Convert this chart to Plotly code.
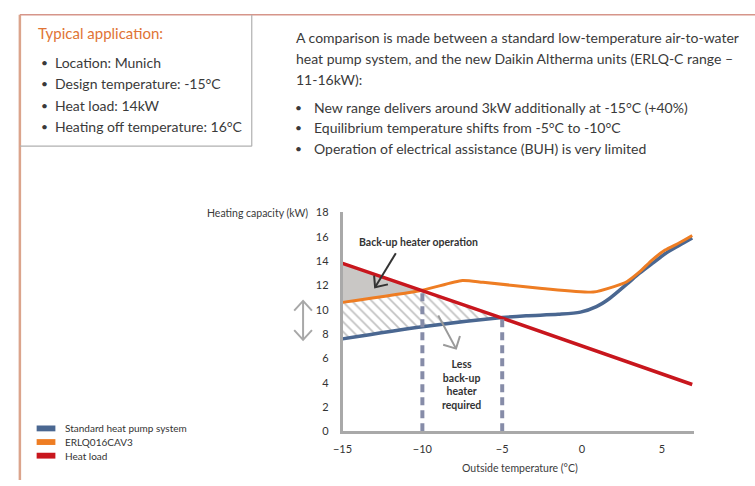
import plotly.graph_objects as go

W, H = 755, 486

# ---------------- data ----------------
temp_std = [-15, -10, -5, -3.5, -1.5, -0.1, 0.9, 1.7, 2.8, 3.6, 4.4, 5.2, 6.1, 6.9]
cap_std = [7.6, 8.6, 9.35, 9.5, 9.62, 9.8, 10.25, 10.9, 12.1, 13.0, 13.8, 14.6, 15.3, 15.9]

temp_new = [-15, -10, -7.5, -6.2, -2.5, 0.7, 2.0, 2.8, 3.6, 4.4, 5.2, 6.1, 6.9]
cap_new = [10.6, 11.6, 12.4, 12.25, 11.75, 11.45, 11.9, 12.3, 13.1, 14.1, 14.9, 15.5, 16.1]

temp_load = [-15, -10, -5, 6.9]
heat_load = [13.8, 11.55, 9.3, 3.85]

equilibrium_new = -10
equilibrium_std = -5
eq_level_new = 11.6
eq_level_std = 9.3

x_ticks = [-15, -10, -5, 0, 5]
y_ticks = [0, 2, 4, 6, 8, 10, 12, 14, 16, 18]

series_names = ["Standard heat pump system", "ERLQ016CAV3", "Heat load"]
series_colors = ["#4a6791", "#ee7d23", "#c8161d"]

# ---------------- helpers ----------------
def px(x):
    return x / W

def py(y):
    return 1 - y / H

FONT = "Lato"
TXT = "#3a3a3a"

fig = go.Figure()

# gray back-up heater region (between heat load and new unit, -15..-10)
gx = [temp_load[0], temp_load[1], temp_new[1], temp_new[0], temp_load[0]]
gy = [heat_load[0], heat_load[1], cap_new[1], cap_new[0], heat_load[0]]
fig.add_trace(go.Scatter(x=gx, y=gy, fill="toself", fillcolor="#c9c7c5",
                         line=dict(width=0), mode="lines", hoverinfo="skip"))

# hatched region (reduction of back-up heater)
hx = [temp_new[0], temp_new[1], temp_load[2], temp_std[2], temp_std[1], temp_std[0], temp_new[0]]
hy = [cap_new[0], cap_new[1], heat_load[2], cap_std[2], cap_std[1], cap_std[0], cap_new[0]]
fig.add_trace(go.Scatter(x=hx, y=hy, fill="toself", fillcolor="white",
                         fillpattern=dict(shape="\\", fgcolor="#858585", bgcolor="white",
                                          size=7, solidity=0.25),
                         line=dict(width=0), mode="lines", hoverinfo="skip"))

# curves
fig.add_trace(go.Scatter(x=temp_std, y=cap_std, mode="lines",
                         line=dict(color=series_colors[0], width=3.5, shape="spline", smoothing=0.8),
                         name=series_names[0]))
fig.add_trace(go.Scatter(x=temp_new, y=cap_new, mode="lines",
                         line=dict(color=series_colors[1], width=3, shape="spline", smoothing=0.6),
                         name=series_names[1]))
fig.add_trace(go.Scatter(x=temp_load, y=heat_load, mode="lines",
                         line=dict(color=series_colors[2], width=3.5),
                         name=series_names[2]))

# equilibrium dashed lines
for xe, ye in [(equilibrium_new, eq_level_new), (equilibrium_std, eq_level_std)]:
    fig.add_trace(go.Scatter(x=[xe, xe], y=[0, ye], mode="lines",
                             line=dict(color="#868ca8", width=4, dash="8px,5px"),
                             hoverinfo="skip"))

shapes = []
# page frame lines
shapes.append(dict(type="line", xref="paper", yref="paper", x0=px(10), x1=px(755), y0=py(8), y1=py(8),
                   line=dict(color="#d6958a", width=1.5)))
shapes.append(dict(type="line", xref="paper", yref="paper", x0=px(10), x1=px(10), y0=py(8), y1=py(486),
                   line=dict(color="#dba48c", width=2.5)))
shapes.append(dict(type="line", xref="paper", yref="paper", x0=px(245), x1=px(245), y0=py(8), y1=py(143),
                   line=dict(color="#b0b0b0", width=1.2)))
shapes.append(dict(type="line", xref="paper", yref="paper", x0=px(10), x1=px(245), y0=py(143), y1=py(143),
                   line=dict(color="#b0b0b0", width=1.2)))

def path(points):
    return "M " + " L ".join(f"{px(a):.5f},{py(b):.5f}" for a, b in points)

# arrow: back-up heater operation
shapes.append(dict(type="path", xref="paper", yref="paper", path=path([(391, 253), (370, 288)]),
                   line=dict(color="#333333", width=2)))
shapes.append(dict(type="path", xref="paper", yref="paper", path=path([(369, 276), (370, 288), (383, 285)]),
                   line=dict(color="#333333", width=2)))
# arrow: less back-up heater
shapes.append(dict(type="path", xref="paper", yref="paper", path=path([(434, 317), (452, 351)]),
                   line=dict(color="#9a9a9a", width=2)))
shapes.append(dict(type="path", xref="paper", yref="paper", path=path([(439, 347), (452, 351), (456, 338)]),
                   line=dict(color="#9a9a9a", width=2)))
# double arrow
shapes.append(dict(type="path", xref="paper", yref="paper", path=path([(297, 302), (297, 342)]),
                   line=dict(color="#a8a8a8", width=2)))
shapes.append(dict(type="path", xref="paper", yref="paper", path=path([(288, 312), (297, 302), (306, 312)]),
                   line=dict(color="#a8a8a8", width=2)))
shapes.append(dict(type="path", xref="paper", yref="paper", path=path([(288, 332), (297, 342), (306, 332)]),
                   line=dict(color="#a8a8a8", width=2)))

# legend swatches
for i, c in enumerate(series_colors):
    yc = 433 + 14 * i
    shapes.append(dict(type="rect", xref="paper", yref="paper", x0=px(27), x1=px(46),
                       y0=py(yc + 3), y1=py(yc - 3), fillcolor=c, line=dict(width=0)))

annotations = []

def txt(x, y, t, size=14, color=TXT, xanchor="left", bold=False, align="left"):
    annotations.append(dict(xref="paper", yref="paper", x=px(x), y=py(y), text=(f"<b>{t}</b>" if bold else t),
                            showarrow=False, xanchor=xanchor, yanchor="middle", align=align,
                            font=dict(family=FONT, size=size, color=color)))

txt(26, 27, "Typical application:", size=15, color="#e07435")
left_items = ["Location: Munich", "Design temperature: -15°C", "Heat load: 14kW", "Heating off temperature: 16°C"]
for i, t in enumerate(left_items):
    yy = 57 + 22 * i
    txt(29, yy, "•", size=12)
    txt(44, yy, t, size=14)

para = ["A comparison is made between a standard low-temperature air-to-water",
        "heat pump system, and the new Daikin Altherma units (ERLQ-C range –",
        "11-16kW):"]
for i, t in enumerate(para):
    txt(288, 31 + 21.5 * i, t, size=14)
right_items = ["New range delivers around 3kW additionally at -15°C (+40%)",
               "Equilibrium temperature shifts from -5°C to -10°C",
               "Operation of electrical assistance (BUH) is very limited"]
for i, t in enumerate(right_items):
    yy = 103 + 21 * i
    txt(287, yy, "•", size=12)
    txt(306, yy, t, size=14)

txt(304, 212, "Heating capacity (kW)", size=10.5, xanchor="right")
txt(517, 474, "Outside temperature (°C)", size=10.5, xanchor="center")
txt(414, 241, "Back-up heater operation", size=10.5, xanchor="center", bold=True, color="#333")
txt(458, 388, "Less<br>back-up<br>heater<br>required", size=10.5, xanchor="center", bold=True,
    color="#333", align="center")

for i, n in enumerate(series_names):
    txt(54, 433 + 14 * i, n, size=10, color="#333")

fig.update_layout(
    width=W, height=H, margin=dict(l=0, r=0, t=0, b=0),
    paper_bgcolor="white", plot_bgcolor="white", showlegend=False,
    shapes=shapes, annotations=annotations,
    xaxis=dict(domain=[px(337), px(693)], range=[-15, 7], showgrid=False, zeroline=False,
               showline=True, linecolor="#a9a9a9", linewidth=2.5, tickvals=x_ticks,
               ticks="", ticklabelstandoff=6, tickfont=dict(family=FONT, size=11, color="#333")),
    yaxis=dict(domain=[py(436), py(211)], range=[0, 18], showgrid=False, zeroline=False,
               showline=True, linecolor="#a9a9a9", linewidth=2.5, tickvals=y_ticks,
               ticks="", ticklabelstandoff=9, tickfont=dict(family=FONT, size=11, color="#333")),
    hovermode=False,
)

fig.write_html("out.html")
